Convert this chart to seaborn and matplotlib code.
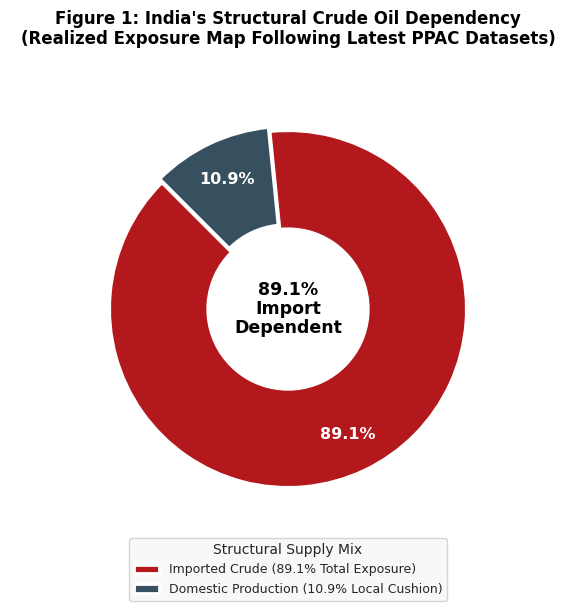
import matplotlib
matplotlib.use('Agg')
import matplotlib.pyplot as plt
import seaborn as sns

sns.set_theme(style='white')
plt.rcParams['font.family'] = ['DejaVu Sans']

labels = ['Imported Crude (89.1% Total Exposure)', 'Domestic Production (10.9% Local Cushion)']
shares = [89.1, 10.9]
colors = ['#B3191C', '#37505F']

fig, ax = plt.subplots(figsize=(5.76, 6.15), dpi=100)
wedges, texts, autotexts = ax.pie(
    shares, colors=colors, startangle=135, explode=[0, 0.025],
    autopct='%1.1f%%', pctdistance=0.78,
    wedgeprops=dict(width=0.55, edgecolor='white', linewidth=2),
    textprops=dict(color='white', fontsize=11.5, fontweight='bold'))
ax.text(0, 0, '89.1%\nImport\nDependent', ha='center', va='center',
        fontsize=12.5, fontweight='bold', color='black', linespacing=1.1)
ax.set_aspect('equal')
ax.set_title("Figure 1: India's Structural Crude Oil Dependency\n"
             "(Realized Exposure Map Following Latest PPAC Datasets)",
             fontsize=12, fontweight='bold', color='black', pad=30)
leg = ax.legend(wedges, labels, title='Structural Supply Mix', loc='upper center',
                bbox_to_anchor=(0.5, 0.0), fontsize=9, title_fontsize=10,
                frameon=True, facecolor='#F7F7F7', edgecolor='#CCCCCC')
plt.subplots_adjust(left=0.02, right=0.98, top=0.86, bottom=0.135)
fig.savefig('out.png', dpi=100)
